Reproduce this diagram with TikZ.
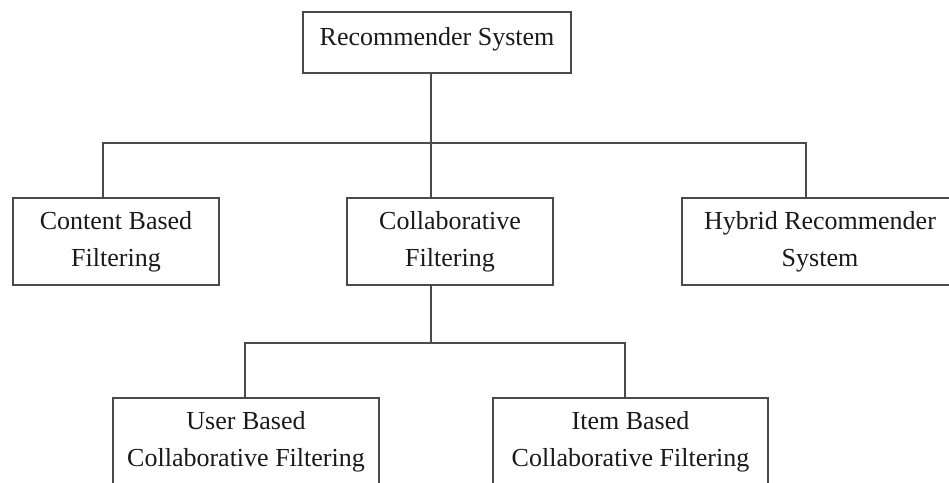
\documentclass[tikz,border=0pt]{standalone}
\usepackage{fontspec}
\setmainfont{Liberation Serif}
\usepackage{tikz}
\usetikzlibrary{positioning,calc}
\definecolor{linegray}{HTML}{4A4A4A}
\definecolor{textdark}{HTML}{1A1A1A}

\tikzset{
    box/.style={draw=linegray, line width=1.6pt, rectangle, inner sep=0pt,
        align=center, text=textdark, font=\fontsize{26}{37}\selectfont},
    link/.style={draw=linegray, line width=1.6pt}
}

\begin{document}
\begin{tikzpicture}[x=1pt,y=-1pt]
        \clip (0,0) rectangle (949,482);
        \fill[white] (0,0) rectangle (949,482);

        % Level 0
        \node[box, minimum width=268pt, minimum height=61pt, text depth=13pt] (root) at (437,42.5) {Recommender System};

        % Level 1
        \node[box, minimum width=206pt, minimum height=87pt] (content) at (116,241.5) {Content Based\\Filtering};
        \node[box, minimum width=206pt, minimum height=87pt] (collab) at (450,241.5) {Collaborative\\Filtering};
        \node[box, minimum width=276pt, minimum height=87pt] (hybrid) at (820,241.5) {Hybrid Recommender\\System};

        % Level 2
        \node[box, minimum width=266pt, minimum height=87pt] (user) at (246,441.5) {User Based\\Collaborative Filtering};
        \node[box, minimum width=275pt, minimum height=87pt] (item) at (630.5,441.5) {Item Based\\Collaborative Filtering};

        % Bus lines
        \coordinate (busA) at (431,143);
        \coordinate (busAl) at (103,143);
        \coordinate (busAr) at (806,143);
        \coordinate (busB) at (431,343);
        \coordinate (busBl) at (245,343);
        \coordinate (busBr) at (625,343);

        \draw[link] (busA |- root.south) -- (busA);
        \draw[link] (busAl |- content.north) -- (busAl) -- (busAr) -- (busAr |- hybrid.north);
        \draw[link] (busA) -- (busA |- collab.north);

        \draw[link] (busB |- collab.south) -- (busB);
        \draw[link] (busBl |- user.north) -- (busBl) -- (busBr) -- (busBr |- item.north);
    \end{tikzpicture}
\end{document}
